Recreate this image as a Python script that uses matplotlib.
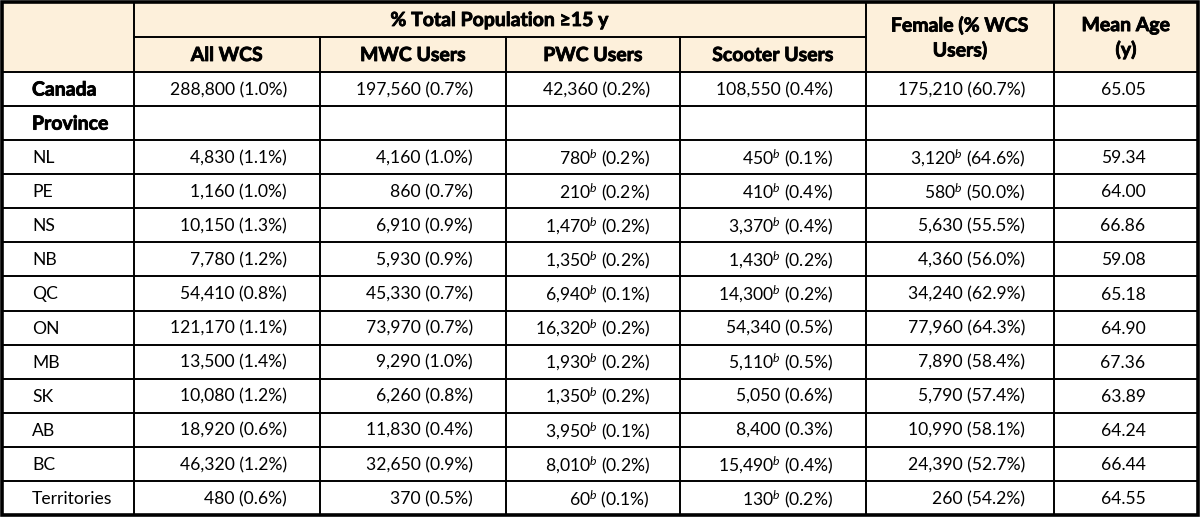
import matplotlib
matplotlib.use("Agg")
import matplotlib.pyplot as plt
import matplotlib.patheffects as pe

plt.rcParams['font.family'] = ['Lato', 'DejaVu Sans']
plt.rcParams['mathtext.fontset'] = 'custom'
plt.rcParams['mathtext.rm'] = 'Lato'
plt.rcParams['mathtext.it'] = 'Lato:italic'

# data
regions = ["NL", "PE", "NS", "NB", "QC", "ON", "MB", "SK", "AB", "BC", "Territories"]
all_n = [288800, 4830, 1160, 10150, 7780, 54410, 121170, 13500, 10080, 18920, 46320, 480]
all_p = [1.0, 1.1, 1.0, 1.3, 1.2, 0.8, 1.1, 1.4, 1.2, 0.6, 1.2, 0.6]
mwc_n = [197560, 4160, 860, 6910, 5930, 45330, 73970, 9290, 6260, 11830, 32650, 370]
mwc_p = [0.7, 1.0, 0.7, 0.9, 0.9, 0.7, 0.7, 1.0, 0.8, 0.4, 0.9, 0.5]
pwc_n = [42360, 780, 210, 1470, 1350, 6940, 16320, 1930, 1350, 3950, 8010, 60]
pwc_p = [0.2, 0.2, 0.2, 0.2, 0.2, 0.1, 0.2, 0.2, 0.2, 0.1, 0.2, 0.1]
pwc_b = [0, 1, 1, 1, 1, 1, 1, 1, 1, 1, 1, 1]
sco_n = [108550, 450, 410, 3370, 1430, 14300, 54340, 5110, 5050, 8400, 15490, 130]
sco_p = [0.4, 0.1, 0.4, 0.4, 0.2, 0.2, 0.5, 0.5, 0.6, 0.3, 0.4, 0.2]
sco_b = [0, 1, 1, 1, 1, 1, 0, 1, 0, 0, 1, 1]
fem_n = [175210, 3120, 580, 5630, 4360, 34240, 77960, 7890, 5790, 10990, 24390, 260]
fem_p = [60.7, 64.6, 50.0, 55.5, 56.0, 62.9, 64.3, 58.4, 57.4, 58.1, 52.7, 54.2]
fem_b = [0, 1, 1, 0, 0, 0, 0, 0, 0, 0, 0, 0]
mean_age = [65.05, 59.34, 64.00, 66.86, 59.08, 65.18, 64.90, 67.36, 63.89, 64.24, 66.44, 64.55]

sub_headers = ["All WCS", "MWC Users", "PWC Users", "Scooter Users"]

# layout (pixels)
W, H = 1200, 518
col_x = [2, 134, 320, 506, 680, 866, 1054, 1198]
h_top, h_mid, h_bot = 2, 37, 72
n_rows = 13
bottom = 515
row_h = (bottom - h_bot) / n_rows
right_pad = [287, 473, 650, 833, 1025]
fs = 12.6
hfs = 14.0
header_bg = "#FDF0DB"
heavy = [pe.withStroke(linewidth=0.6, foreground="black")]


def cell(n, p, b=0):
    s = f"{n:,}"
    if b:
        s += r"$^{b}$"
    return s + f" ({p:.1f}%)"


fig = plt.figure(figsize=(W / 100, H / 100), dpi=100)
ax = fig.add_axes([0, 0, 1, 1])
ax.set_xlim(0, W)
ax.set_ylim(H, 0)
ax.axis("off")

# header background
ax.add_patch(plt.Rectangle((col_x[0], h_top), col_x[-1] - col_x[0], h_bot - h_top,
                           facecolor=header_bg, edgecolor="none"))

lw = 1.4
# horizontal lines
ax.plot([col_x[1], col_x[5]], [h_mid, h_mid], color="black", lw=lw)
ax.plot([col_x[0], col_x[-1]], [h_bot, h_bot], color="black", lw=lw)
for i in range(1, n_rows):
    y = h_bot + i * row_h
    ax.plot([col_x[0], col_x[-1]], [y, y], color="black", lw=lw)
# vertical lines
for j, x in enumerate(col_x[1:-1], start=1):
    if j in (2, 3, 4):
        ax.plot([x, x], [h_mid, bottom], color="black", lw=lw)
    else:
        ax.plot([x, x], [h_top, bottom], color="black", lw=lw)
# outer border
ax.add_patch(plt.Rectangle((col_x[0], h_top), col_x[-1] - col_x[0], bottom - h_top,
                           facecolor="none", edgecolor="black", lw=2.6))

# headers
hkw = dict(ha="center", va="center", fontsize=hfs, fontweight="bold",
           path_effects=heavy)
ax.text((col_x[1] + col_x[5]) / 2, (h_top + h_mid) / 2 + 1, "% Total Population ≥15 y", **hkw)
for j, t in enumerate(sub_headers):
    ax.text((col_x[j + 1] + col_x[j + 2]) / 2, (h_mid + h_bot) / 2 + 1, t, **hkw)
ax.text((col_x[5] + col_x[6]) / 2, (h_top + h_bot) / 2 + 1, "Female (% WCS\nUsers)",
        linespacing=1.45, **hkw)
ax.text((col_x[6] + col_x[7]) / 2, (h_top + h_bot) / 2 + 1, "Mean Age\n(y)",
        linespacing=1.45, **hkw)

# body
labels = ["Canada", "Province"] + regions
data_idx = [0, None] + list(range(1, 12))
for r, (lab, k) in enumerate(zip(labels, data_idx)):
    yc = h_bot + (r + 0.5) * row_h + 1
    if r < 2:
        ax.text(32, yc, lab, ha="left", va="center", fontsize=hfs,
                fontweight="bold", path_effects=heavy)
    else:
        ax.text(32, yc, lab, ha="left", va="center", fontsize=fs)
    if k is None:
        continue
    vals = [cell(all_n[k], all_p[k]),
            cell(mwc_n[k], mwc_p[k]),
            cell(pwc_n[k], pwc_p[k], pwc_b[k]),
            cell(sco_n[k], sco_p[k], sco_b[k]),
            cell(fem_n[k], fem_p[k], fem_b[k])]
    for c, v in enumerate(vals):
        ax.text(right_pad[c], yc, v, ha="right", va="center", fontsize=fs)
    ax.text((col_x[6] + col_x[7]) / 2 - 3, yc, f"{mean_age[k]:.2f}",
            ha="center", va="center", fontsize=fs)

fig.savefig("out.png", dpi=100)
